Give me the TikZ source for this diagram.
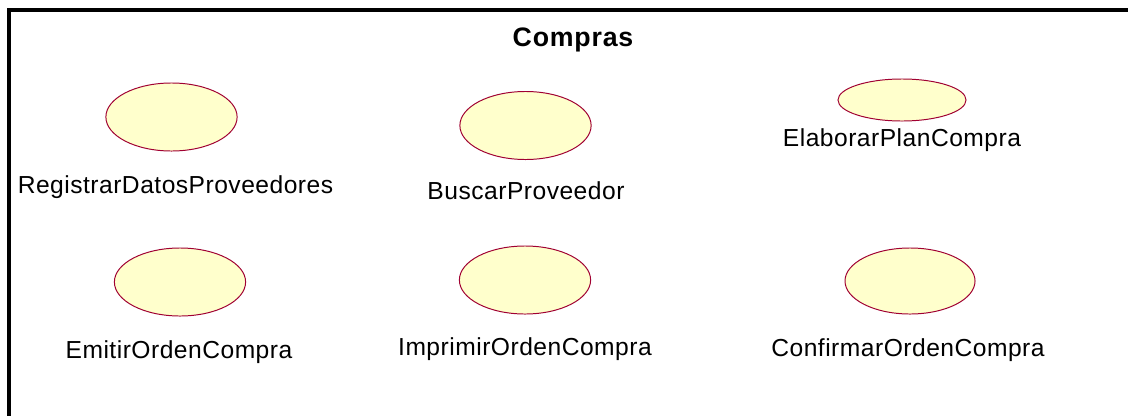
\documentclass[tikz,border=0pt]{standalone}
\usepackage{fontspec}
\setmainfont{Liberation Sans}
\newfontfamily\ucfont[LetterSpace=2]{Liberation Sans}
\newfontfamily\ttlfont[LetterSpace=3]{Liberation Sans}
\usetikzlibrary{shapes.geometric}
\definecolor{ucfill}{RGB}{255,255,204}
\definecolor{ucline}{RGB}{160,0,50}
\begin{document}
\begin{tikzpicture}[x=0.025cm,y=-0.025cm,
  usecase/.style={ellipse,draw=ucline,fill=ucfill,line width=0.7pt,inner sep=0pt,
    minimum width=3.28cm,minimum height=1.7cm},
  uclabel/.style={anchor=base,inner sep=0pt,font=\ucfont\fontsize{17.5}{21}\selectfont}]
 \clip (0,0) rectangle (1128,415);
 \fill[white] (0,0) rectangle (1128,415);
 % package frame
 \draw[line width=2.8pt] (9,440) -- (9,10) -- (1150,10);
 \node[anchor=base,inner sep=0pt,font=\ttlfont\bfseries\fontsize{19}{23}\selectfont] (titulo) at (573,46.7) {Compras};
 %
 \node[usecase] (registrar) at (171.5,117) {};
 \node[uclabel] (registrarlbl) at (175.5,193) {RegistrarDatosProveedores};
 \node[usecase] (buscar) at (525.5,125.5) {};
 \node[uclabel] (buscarlbl) at (526,199) {BuscarProveedor};
 \node[usecase,minimum width=3.2cm,minimum height=1.05cm] (elaborar) at (902,100) {};
 \node[uclabel] (elaborarlbl) at (902,146) {ElaborarPlanCompra};
 %
 \node[usecase] (emitir) at (180,282) {};
 \node[uclabel] (emitirlbl) at (179,358) {EmitirOrdenCompra};
 \node[usecase] (imprimir) at (525,280) {};
 \node[uclabel] (imprimirlbl) at (525,355) {ImprimirOrdenCompra};
 \node[usecase,minimum width=3.25cm,minimum height=1.65cm] (confirmar) at (910,281) {};
 \node[uclabel] (confirmarlbl) at (908,356) {ConfirmarOrdenCompra};
\end{tikzpicture}
\end{document}
